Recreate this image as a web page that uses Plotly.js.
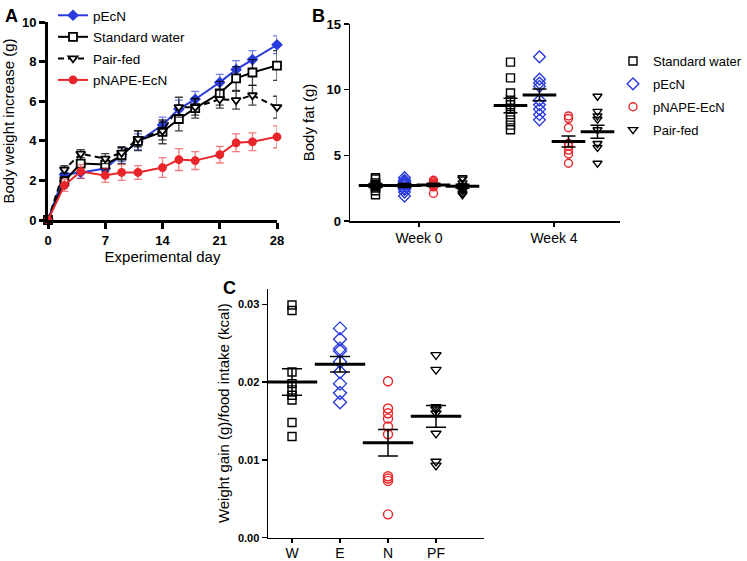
<!DOCTYPE html>
<html>
<head>
<meta charset="utf-8">
<script src="https://cdn.plot.ly/plotly-3.0.1.min.js"></script>
<style>
  html, body { margin: 0; padding: 0; background: #fff; }
  #chart { width: 747px; height: 561px; }
</style>
</head>
<body>
<div id="chart"></div>
<script>
// ---- Panel A: body weight increase over the experiment ----
const days = [0, 2, 4, 7, 9, 11, 14, 16, 18, 21, 23, 25, 28];
const pEcN = [0, 2.3, 2.4, 2.6, 3.3, 3.95, 4.8, 5.6, 6.1, 6.95, 7.6, 8.1, 8.85];
const pEcNErr = [0, 0.2, 0.3, 0.3, 0.35, 0.4, 0.4, 0.45, 0.4, 0.4, 0.45, 0.45, 0.45];
const water = [0, 1.95, 2.85, 2.8, 3.25, 4.0, 4.45, 5.1, 5.65, 6.4, 7.15, 7.45, 7.8];
const waterErr = [0, 0.25, 0.5, 0.35, 0.4, 0.5, 0.6, 0.6, 0.5, 0.6, 0.6, 0.65, 0.75];
const pairFed = [0, 2.55, 3.35, 3.1, 3.4, 4.1, 4.5, 5.7, 5.7, 6.1, 6.05, 6.3, 5.7];
const pairFedErr = [0, 0.2, 0.2, 0.25, 0.3, 0.4, 0.45, 0.5, 0.4, 0.45, 0.45, 0.5, 0.55];
const pNAPE = [0, 1.75, 2.45, 2.25, 2.4, 2.4, 2.65, 3.05, 3.0, 3.3, 3.9, 3.95, 4.2];
const pNAPEErr = [0, 0.3, 0.35, 0.35, 0.4, 0.35, 0.5, 0.55, 0.45, 0.42, 0.45, 0.45, 0.55];

// ---- Panel B: body fat at week 0 and week 4 ----
const weeks = ["Week 0", "Week 4"];
const fatGroups = ["Standard water", "pEcN", "pNAPE-EcN", "Pair-fed"];
const fatWaterW0 = [3.3, 3.2, 2.9, 2.8, 2.7, 2.7, 2.6, 2.5, 2.3, 2.0];
const fatWaterW4 = [12.1, 10.9, 9.75, 9.2, 8.85, 8.5, 8.1, 7.7, 7.3, 6.95];
const fatEcNW0 = [3.3, 3.1, 3.0, 2.9, 2.8, 2.7, 2.5, 2.4, 2.2, 1.9];
const fatEcNW4 = [12.5, 10.8, 10.5, 10.25, 9.2, 8.85, 8.5, 8.1, 7.7];
const fatNapeW0 = [3.1, 3.0, 2.9, 2.8, 2.8, 2.7, 2.6, 2.1];
const fatNapeW4 = [8.0, 7.8, 7.1, 5.9, 5.7, 5.4, 5.1, 4.4];
const fatPairW0 = [3.3, 3.2, 2.9, 2.7, 2.6, 2.5, 2.4, 2.3, 2.1, 2.0];
const fatPairW4 = [9.5, 8.35, 8.0, 7.75, 6.95, 5.9, 5.6, 4.4];
const fatMeanW0 = [2.7, 2.7, 2.75, 2.65];
const fatMeanW4 = [8.8, 9.6, 6.05, 6.8];
const fatSemW0 = [0.15, 0.15, 0.12, 0.15];
const fatSemW4 = [0.55, 0.45, 0.42, 0.5];

// ---- Panel C: weight gain per food intake ----
const ratioCats = ["W", "E", "N", "PF"];
const ratioW = [0.0299, 0.0292, 0.0213, 0.0198, 0.019, 0.0183, 0.0177, 0.0148, 0.013];
const ratioE = [0.0269, 0.0255, 0.0243, 0.024, 0.0226, 0.0213, 0.0198, 0.0186, 0.0174];
const ratioN = [0.0201, 0.0166, 0.016, 0.0153, 0.0143, 0.0133, 0.0079, 0.0076, 0.0073, 0.003];
const ratioPF = [0.0235, 0.0216, 0.0168, 0.0165, 0.016, 0.0134, 0.0098, 0.0093];
const ratioMean = [0.0200, 0.0223, 0.0122, 0.0156];
const ratioSem = [0.0017, 0.0010, 0.0017, 0.0014];

const BLUE = "#2a3bdc", RED = "#e8262a", BLACK = "#000";
const W = 747, H = 561;
const FONT = "Liberation Sans, Arial, Helvetica, sans-serif";

const traces = [];

// panel A lines
const lineSeries = [
  { name: "pEcN", y: pEcN, err: pEcNErr, color: BLUE, errColor: "rgba(42,59,220,0.65)", symbol: "diamond", fill: BLUE, size: 7, dash: "solid" },
  { name: "Standard water", y: water, err: waterErr, color: BLACK, errColor: "rgba(0,0,0,0.75)", symbol: "square", fill: "#fff", size: 8, dash: "solid" },
  { name: "Pair-fed", y: pairFed, err: pairFedErr, color: BLACK, errColor: "rgba(0,0,0,0.75)", symbol: "triangle-down", fill: "#fff", size: 8, dash: "6px,4px" },
  { name: "pNAPE-EcN", y: pNAPE, err: pNAPEErr, color: RED, errColor: "rgba(232,38,42,0.6)", symbol: "circle", fill: RED, size: 7, dash: "solid" }
];
for (const s of lineSeries) {
  traces.push({
    type: "scatter", mode: "lines+markers", name: s.name,
    x: days, y: s.y, xaxis: "x", yaxis: "y", legend: "legend", legendgroup: "a-" + s.name,
    cliponaxis: false,
    line: { color: s.color, width: 2, dash: s.dash },
    marker: { symbol: s.symbol, size: s.size, color: s.fill, line: { color: s.color, width: 1.8 } },
    error_y: { type: "data", array: s.err, color: s.errColor, thickness: 1.3, width: 4 }
  });
}

// panel B scatter points
const fatSeries = [
  { w0: fatWaterW0, w4: fatWaterW4, color: BLACK, symbol: "square-open", size: 8 },
  { w0: fatEcNW0, w4: fatEcNW4, color: BLUE, symbol: "diamond-open", size: 9 },
  { w0: fatNapeW0, w4: fatNapeW4, color: RED, symbol: "circle-open", size: 8 },
  { w0: fatPairW0, w4: fatPairW4, color: BLACK, symbol: "triangle-down-open", size: 8 }
];
const groupStep = 29 / 135; // spacing of the 4 groups inside a week, in week units
fatSeries.forEach((s, i) => {
  const off = (i - 1.5) * groupStep;
  traces.push({
    type: "scatter", mode: "markers", name: fatGroups[i],
    x: s.w0.map(() => 0 + off).concat(s.w4.map(() => 1 + off)),
    y: s.w0.concat(s.w4),
    xaxis: "x2", yaxis: "y2", legend: "legend2", legendgroup: "b-" + fatGroups[i], cliponaxis: false,
    marker: { symbol: s.symbol, size: s.size, color: s.color, line: { color: s.color, width: 1.4 } }
  });
});
// panel B mean +/- SEM
traces.push({
  type: "scatter", mode: "markers", showlegend: false,
  x: fatGroups.map((g, i) => (i - 1.5) * groupStep).concat(fatGroups.map((g, i) => 1 + (i - 1.5) * groupStep)),
  y: fatMeanW0.concat(fatMeanW4),
  xaxis: "x2", yaxis: "y2", cliponaxis: false,
  marker: { symbol: "line-ew", size: 24, color: BLACK, line: { color: BLACK, width: 3 } },
  error_y: { type: "data", array: fatSemW0.concat(fatSemW4), color: BLACK, thickness: 1.5, width: 7 }
});

// panel C scatter points
const ratioSeries = [
  { y: ratioW, color: BLACK, symbol: "square-open", size: 8 },
  { y: ratioE, color: BLUE, symbol: "diamond-open", size: 10 },
  { y: ratioN, color: RED, symbol: "circle-open", size: 9 },
  { y: ratioPF, color: BLACK, symbol: "triangle-down-open", size: 9 }
];
ratioSeries.forEach((s, i) => {
  traces.push({
    type: "scatter", mode: "markers", showlegend: false,
    x: s.y.map(() => ratioCats[i]), y: s.y,
    xaxis: "x3", yaxis: "y3", cliponaxis: false,
    marker: { symbol: s.symbol, size: s.size, color: s.color, line: { color: s.color, width: 1.4 } }
  });
});
traces.push({
  type: "scatter", mode: "markers", showlegend: false,
  x: ratioCats, y: ratioMean, xaxis: "x3", yaxis: "y3", cliponaxis: false,
  marker: { symbol: "line-ew", size: 36, color: BLACK, line: { color: BLACK, width: 3 } },
  error_y: { type: "data", array: ratioSem, color: BLACK, thickness: 1.5, width: 10 }
});

const baseAxis = { showline: true, linecolor: BLACK, ticks: "outside", tickcolor: BLACK, showgrid: false, zeroline: false, fixedrange: true };
const boldTick = (size) => ({ family: FONT, size: size, weight: "bold", color: BLACK });

const layout = {
  width: W, height: H,
  margin: { l: 0, r: 0, t: 0, b: 0 },
  paper_bgcolor: "#fff", plot_bgcolor: "rgba(0,0,0,0)",
  font: { family: FONT, color: BLACK, size: 13 },
  showlegend: true,
  xaxis: { ...baseAxis, anchor: "y", domain: [48 / W, 277 / W], range: [0, 28], tickvals: [0, 7, 14, 21, 28],
    linewidth: 3, tickwidth: 3, ticklen: 6, tickfont: boldTick(13),
    title: { text: "Experimental day", font: { size: 15 }, standoff: 2 } },
  yaxis: { ...baseAxis, anchor: "x", domain: [1 - 220 / H, 1 - 22 / H], range: [0, 10], dtick: 2,
    linewidth: 3, tickwidth: 3, ticklen: 6, tickfont: boldTick(13),
    title: { text: "Body weight increase (g)", font: { size: 15 }, standoff: 4 } },
  xaxis2: { ...baseAxis, anchor: "y2", domain: [350 / W, 620 / W], range: [-0.511, 1.489], tickvals: [0, 1], ticktext: weeks,
    linewidth: 1.5, tickwidth: 1.5, ticklen: 4, tickfont: { size: 14 } },
  yaxis2: { ...baseAxis, anchor: "x2", domain: [1 - 221 / H, 1 - 24 / H], range: [0, 15], dtick: 5,
    linewidth: 1.5, tickwidth: 1.5, ticklen: 5, tickfont: boldTick(13),
    title: { text: "Body fat (g)", font: { size: 15 }, standoff: 8 } },
  xaxis3: { ...baseAxis, anchor: "y3", type: "category", domain: [268 / W, 484 / W], range: [-0.5, 4],
    linewidth: 1.5, tickwidth: 1.5, ticklen: 4, ticklabelstandoff: -2, tickfont: { size: 14 } },
  yaxis3: { ...baseAxis, anchor: "x3", domain: [1 - 537.7 / H, 1 - 288.7 / H], range: [0, 0.032],
    tickvals: [0, 0.01, 0.02, 0.03], tickformat: ".2f",
    linewidth: 1.5, tickwidth: 1.5, ticklen: 5, tickfont: boldTick(11),
    title: { text: "Weight gain (g)/food intake (kcal)", font: { size: 15 }, standoff: 4 } },
  legend: { x: 53 / W, y: 1, xanchor: "left", yanchor: "top", bgcolor: "rgba(0,0,0,0)",
    font: { size: 13.5 }, traceorder: "grouped", tracegroupgap: 1, itemclick: false },
  legend2: { x: 1, y: 1 - 46 / H, xanchor: "right", yanchor: "top", bgcolor: "rgba(0,0,0,0)",
    font: { size: 13 }, itemwidth: 30, traceorder: "grouped", tracegroupgap: 3, itemclick: false },
  annotations: [
    { text: "<b>A</b>", x: 3 / W, y: 1 - 4 / H, xref: "paper", yref: "paper", xanchor: "left", yanchor: "top", showarrow: false, font: { size: 18 } },
    { text: "<b>B</b>", x: 310 / W, y: 1 - 4 / H, xref: "paper", yref: "paper", xanchor: "left", yanchor: "top", showarrow: false, font: { size: 18 } },
    { text: "<b>C</b>", x: 221 / W, y: 1 - 276 / H, xref: "paper", yref: "paper", xanchor: "left", yanchor: "top", showarrow: false, font: { size: 18 } }
  ]
};

Plotly.newPlot("chart", traces, layout, { displayModeBar: false, staticPlot: true });
</script>
</body>
</html>
